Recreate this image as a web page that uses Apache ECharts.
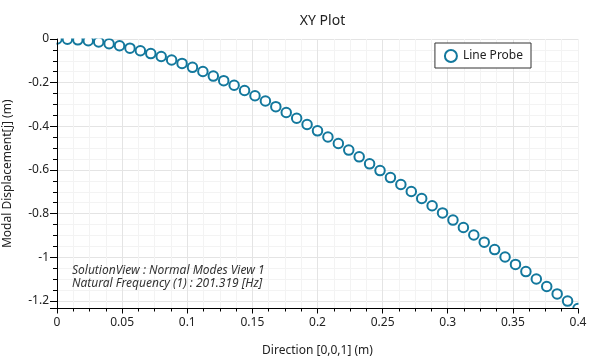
<!DOCTYPE html>
<html>
<head>
<meta charset="utf-8">
<script src="https://cdn.jsdelivr.net/npm/echarts@6/dist/echarts.min.js"></script>
<style>
html,body{margin:0;padding:0;background:#fff;}
#chart{width:589px;height:360px;}
</style>
</head>
<body>
<div id="chart"></div>
<script>
// Direction [0,0,1] positions (m)
const positions = [
  0.000,0.008,0.016,0.024,0.032,0.040,0.048,0.056,0.064,0.072,
  0.080,0.088,0.096,0.104,0.112,0.120,0.128,0.136,0.144,0.152,
  0.160,0.168,0.176,0.184,0.192,0.200,0.208,0.216,0.224,0.232,
  0.240,0.248,0.256,0.264,0.272,0.280,0.288,0.296,0.304,0.312,
  0.320,0.328,0.336,0.344,0.352,0.360,0.368,0.376,0.384,0.392,
  0.400
];
// Modal Displacement[j] (m)
const displacement = [
  0.000,-0.001,-0.004,-0.008,-0.014,-0.022,-0.031,-0.042,-0.054,-0.067,
  -0.080,-0.096,-0.112,-0.130,-0.149,-0.170,-0.191,-0.212,-0.236,-0.260,
  -0.284,-0.310,-0.337,-0.363,-0.392,-0.421,-0.449,-0.479,-0.509,-0.540,
  -0.572,-0.603,-0.635,-0.667,-0.699,-0.731,-0.764,-0.797,-0.830,-0.864,
  -0.898,-0.931,-0.965,-0.999,-1.033,-1.066,-1.100,-1.134,-1.168,-1.201,
  -1.235
];
const seriesName = 'Line Probe';
const titleText = 'XY Plot';
const xName = 'Direction [0,0,1] (m)';
const yName = 'Modal Displacement[j] (m)';
const noteLines = ['SolutionView : Normal Modes View 1', 'Natural Frequency (1) : 201.319 [Hz]'];

const FONT = 'Noto Sans';
const MARK = '#13789d';
const W = 589, H = 360;
const G = {left: 57, right: 11, top: 39, bottom: 51.5};

// y axis is drawn inverted on the magnitude so that ticks start at 0
const yMagMax = -Math.min.apply(null, displacement);
const points = positions.map((x, i) => [x, -displacement[i]]);

const xBase = {type: 'value', min: 0, max: 0.4, interval: 0.05, position: 'bottom'};
const yBase = {type: 'value', inverse: true, min: 0, max: yMagMax, interval: 0.2, position: 'left'};
const labelStyle = {fontFamily: FONT, fontSize: 12, color: '#222'};

const chart = echarts.init(document.getElementById('chart'), null, {renderer: 'canvas'});
chart.setOption({
  animation: false,
  backgroundColor: '#fff',
  textStyle: {fontFamily: FONT},
  title: {
    text: titleText,
    left: 317.5,
    textAlign: 'center',
    top: 9,
    z: 20,
    textStyle: {fontFamily: FONT, fontSize: 14, fontWeight: 'normal', color: '#222'}
  },
  legend: {
    right: 58,
    top: 43,
    z: 20,
    orient: 'vertical',
    backgroundColor: '#fff',
    borderColor: '#333',
    borderWidth: 1,
    borderRadius: 0,
    padding: [6, 8, 5, 9],
    itemWidth: 14,
    itemHeight: 12,
    textStyle: {fontFamily: FONT, fontSize: 12, color: '#222'},
    data: [seriesName]
  },
  grid: {left: G.left, right: G.right, top: G.top, bottom: G.bottom, containLabel: false, outerBoundsMode: 'none'},
  xAxis: [
    Object.assign({}, xBase, {
      z: 0,
      axisLine: {show: false},
      axisTick: {show: false},
      axisLabel: {show: false},
      splitLine: {show: true, lineStyle: {color: '#e4e4e4', width: 1}},
      minorTick: {show: false, splitNumber: 4},
      minorSplitLine: {show: true, lineStyle: {color: '#f3f3f3', width: 1}}
    }),
    Object.assign({}, xBase, {
      z: 10,
      name: xName,
      nameLocation: 'middle',
      nameGap: 36,
      nameTextStyle: labelStyle,
      axisLine: {show: true, onZero: false, lineStyle: {color: '#000', width: 1}},
      axisTick: {show: true, length: 5, lineStyle: {color: '#000'}},
      minorTick: {show: true, splitNumber: 4, length: 3, lineStyle: {color: '#000'}},
      splitLine: {show: false},
      minorSplitLine: {show: false},
      axisLabel: Object.assign({margin: 8, formatter: v => String(+v.toFixed(3))}, labelStyle)
    })
  ],
  yAxis: [
    Object.assign({}, yBase, {
      z: 0,
      axisLine: {show: false},
      axisTick: {show: false},
      axisLabel: {show: false},
      splitLine: {show: true, lineStyle: {color: '#e4e4e4', width: 1}},
      minorTick: {show: false, splitNumber: 4},
      minorSplitLine: {show: true, lineStyle: {color: '#f3f3f3', width: 1}}
    }),
    Object.assign({}, yBase, {
      z: 10,
      name: yName,
      nameLocation: 'middle',
      nameGap: 43,
      nameTextStyle: labelStyle,
      axisLine: {show: true, onZero: false, lineStyle: {color: '#000', width: 1}},
      axisTick: {show: true, length: 7, lineStyle: {color: '#000'}},
      minorTick: {show: true, splitNumber: 4, length: 4, lineStyle: {color: '#000'}},
      splitLine: {show: false},
      minorSplitLine: {show: false},
      axisLabel: Object.assign({margin: 8, showMaxLabel: false,
        formatter: v => v === 0 ? '0' : String(-(+v.toFixed(3)))}, labelStyle)
    })
  ],
  graphic: [
    // white masks outside the plot area so markers are clipped at the frame
    {type: 'rect', z: 5, silent: true, shape: {x: 0, y: 0, width: G.left - 0.5, height: H}, style: {fill: '#fff'}},
    {type: 'rect', z: 5, silent: true, shape: {x: 0, y: 0, width: W, height: G.top - 0.5}, style: {fill: '#fff'}},
    {type: 'rect', z: 5, silent: true, shape: {x: W - G.right + 0.5, y: 0, width: G.right, height: H}, style: {fill: '#fff'}},
    {type: 'rect', z: 5, silent: true, shape: {x: 0, y: H - G.bottom + 0.5, width: W, height: G.bottom}, style: {fill: '#fff'}},
    {
      type: 'text',
      left: 72,
      top: 264,
      z: 100,
      style: {
        text: noteLines.join('\n'),
        font: 'italic 12px "Noto Sans"',
        fill: '#333',
        lineHeight: 13
      }
    }
  ],
  series: [{
    name: seriesName,
    type: 'scatter',
    xAxisIndex: 0,
    yAxisIndex: 0,
    data: points,
    symbol: 'emptyCircle',
    symbolSize: 9.5,
    z: 2,
    itemStyle: {color: MARK, borderColor: MARK, borderWidth: 2.5, opacity: 1}
  }]
});
</script>
</body>
</html>
